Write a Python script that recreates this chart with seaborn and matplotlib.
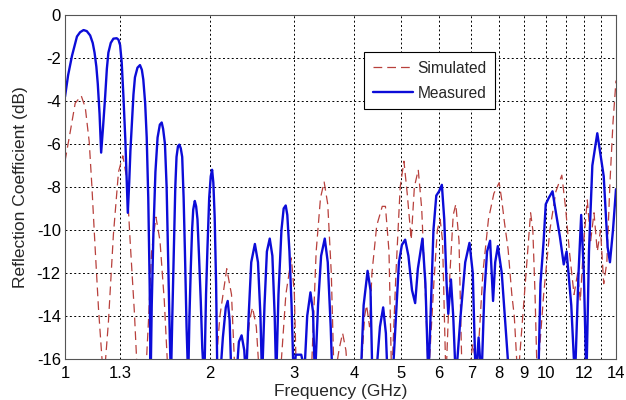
import numpy as np
import pandas as pd
import matplotlib
matplotlib.use("Agg")
import matplotlib.pyplot as plt
from matplotlib.ticker import FixedLocator, FixedFormatter, NullLocator
from matplotlib.lines import Line2D
import seaborn as sns

# Measured (blue) — frequency in GHz, reflection coefficient in dB
meas_f = [1.000, 1.015, 1.034, 1.059, 1.075, 1.093, 1.110, 1.128, 1.142, 1.152, 1.162, 1.170, 1.180, 1.189,
          1.200, 1.212, 1.222, 1.231, 1.245, 1.261, 1.281, 1.292, 1.302, 1.312, 1.323, 1.335, 1.344, 1.351,
          1.360, 1.368, 1.377, 1.388, 1.398, 1.415, 1.432, 1.445, 1.455, 1.468, 1.479, 1.490, 1.500, 1.507,
          1.515, 1.527, 1.542, 1.558, 1.575, 1.589, 1.600, 1.614, 1.627, 1.640, 1.652, 1.661,
          1.672, 1.687, 1.696, 1.706, 1.718, 1.729, 1.741, 1.753, 1.765, 1.776, 1.790, 1.804,
          1.815, 1.827, 1.838, 1.848, 1.862, 1.874, 1.886, 1.900, 1.916, 1.930, 1.947,
          1.953, 1.965, 1.978, 1.995, 2.010, 2.023, 2.035, 2.048, 2.062, 2.075,
          2.10, 2.13, 2.16, 2.18, 2.20, 2.22, 2.27, 2.30, 2.33, 2.36, 2.38, 2.41, 2.44, 2.483, 2.52, 2.55, 2.57,
          2.60, 2.63, 2.666, 2.70, 2.73, 2.75, 2.78, 2.82, 2.85, 2.878, 2.90, 2.93, 2.96, 2.99, 3.02, 3.10, 3.15, 3.19,
          3.24, 3.28, 3.31, 3.36, 3.41, 3.47, 3.52, 3.57, 3.60, 4.12, 4.18, 4.26, 4.32, 4.36, 4.43, 4.52,
          4.59, 4.65, 4.69, 4.80, 4.88, 4.95, 5.02, 5.10, 5.18, 5.27, 5.35, 5.42, 5.54, 5.62, 5.70, 5.78,
          5.84, 5.92, 6.00, 6.08, 6.15, 6.22, 6.27, 6.35, 6.42, 6.50, 6.65, 6.80, 6.94, 7.05, 7.15, 7.25,
          7.35, 7.45, 7.55, 7.66, 7.77, 7.85, 7.95, 8.10, 8.25, 8.40, 9.65, 9.75, 9.90, 10.0, 10.15, 10.33,
          10.5, 10.7, 10.9, 11.05, 11.3, 11.5, 11.7, 11.85, 12.0, 12.15, 12.3, 12.5, 12.8, 13.0, 13.2,
          13.45, 13.6, 13.8, 14.0]
meas_db = [-3.8, -2.8, -1.9, -1.0, -0.8, -0.7, -0.75, -0.95, -1.3, -1.75, -2.4, -3.2, -4.6, -6.4,
           -5.2, -3.8, -2.5, -1.75, -1.3, -1.1, -1.08, -1.15, -1.4, -2.2, -3.8, -5.8, -7.8, -9.2,
           -7.8, -6.3, -5.1, -3.7, -2.9, -2.45, -2.33, -2.55, -3.0, -4.1, -5.7, -8.5, -12.5, -17.0,
           -13.5, -10.2, -7.3, -5.7, -5.1, -5.0, -5.3, -6.0, -8.0, -11.7, -15.0, -17.0,
           -14.0, -10.2, -8.0, -6.6, -6.1, -6.03, -6.2, -6.6, -8.5, -11.0, -14.5, -17.0,
           -14.0, -11.7, -10.0, -9.05, -8.65, -8.9, -9.5, -11.2, -13.3, -15.5, -17.0,
           -16.0, -13.0, -10.9, -8.5, -7.5, -7.2, -7.8, -9.4, -12.5, -17.0,
           -17.0, -15.0, -13.6, -13.3, -14.2, -17.0, -17.0, -15.2, -14.9, -15.6, -17.0, -14.0, -11.5, -10.65, -11.5, -14.0, -17.0,
           -13.5, -11.0, -10.4, -11.2, -14.0, -17.0, -13.0, -10.0, -9.0, -8.86, -9.3, -11.0, -13.5, -17.0, -15.8, -15.8, -16.5, -14.0,
           -12.9, -13.8, -17.0, -13.5, -11.2, -10.4, -11.5, -14.5, -17.0, -17.0, -13.5, -11.9, -12.8, -17.0, -17.0, -14.5,
           -13.6, -14.8, -17.0, -17.0, -14.0, -11.5, -10.7, -10.45, -11.2, -12.8, -13.4, -11.8, -10.4, -12.5, -17.0, -13.0,
           -10.0, -8.4, -8.2, -7.9, -9.5, -12.5, -13.9, -12.3, -14.0, -17.0, -14.0, -11.5, -10.6, -12.0, -17.0, -15.0,
           -17.0, -13.0, -11.0, -10.5, -13.3, -11.5, -10.75, -12.0, -14.5, -17.0, -17.0, -12.5, -10.5, -8.8, -8.5, -8.2,
           -9.2, -10.3, -11.6, -11.0, -13.5, -17.0, -12.0, -9.3, -12.0, -17.0, -11.0, -7.0, -5.5, -6.5, -7.5,
           -10.8, -11.5, -10.0, -8.1]

# Simulated (red dashed)
sim_f = [1.000, 1.026, 1.050, 1.081, 1.102, 1.123, 1.137, 1.156, 1.174, 1.193, 1.205,
         1.231, 1.261, 1.292, 1.319, 1.344, 1.366, 1.394, 1.416, 1.470,
         1.491, 1.514, 1.546, 1.576, 1.609, 1.640, 2.05, 2.10, 2.17, 2.22, 2.26, 2.36, 2.42, 2.455, 2.50,
         2.54, 2.80, 2.88, 2.957, 3.0, 3.03, 3.25, 3.33, 3.40, 3.46, 3.52, 3.58, 3.63, 3.72, 3.78, 3.84,
         3.88, 4.12, 4.20, 4.24, 4.30, 4.35, 4.45, 4.57, 4.64, 4.72, 4.78, 4.88, 4.98, 5.07, 5.15, 5.25,
         5.33, 5.43, 5.52, 5.62, 5.70, 5.85, 5.95, 6.03, 6.10, 6.20, 6.32, 6.42, 6.50, 6.60, 6.70, 6.90,
         7.05, 7.20, 7.40, 7.60, 7.80, 8.00, 8.10, 8.20, 8.35, 8.50, 8.60, 8.75, 9.10, 9.30, 9.40, 9.50,
         9.60, 9.90, 10.2, 10.5, 10.8, 11.0, 11.2, 11.45, 11.65, 11.8, 12.0, 12.2, 12.4, 12.6, 12.8, 13.0,
         13.2, 13.4, 13.6, 13.8, 14.0]
sim_db = [-6.8, -5.4, -4.1, -3.76, -4.3, -5.9, -7.9, -10.95, -13.65, -15.9, -17.0,
          -14.3, -10.2, -7.3, -6.55, -7.6, -10.5, -13.8, -17.0, -17.0,
          -14.3, -11.0, -9.4, -10.5, -13.3, -17.0, -17.0, -14.0, -11.8, -13.0, -17.0, -17.0, -14.2, -13.6, -14.5,
          -17.0, -17.0, -13.0, -11.3, -13.0, -17.0, -17.0, -11.0, -8.5, -7.77, -8.8, -12.0, -17.0, -15.5, -14.8, -15.6,
          -17.0, -17.0, -14.0, -13.5, -14.5, -12.0, -9.8, -8.9, -8.9, -11.0, -17.0, -12.0, -8.0, -6.8, -8.3, -10.45,
          -8.0, -7.2, -9.0, -13.0, -17.0, -12.5, -10.0, -9.5, -10.5, -17.0, -12.0, -9.3, -8.8, -10.5, -17.0, -17.0,
          -15.3, -16.5, -12.0, -9.5, -8.3, -7.8, -8.6, -9.6, -10.9, -13.0, -14.0, -17.0, -12.0, -9.2, -10.0, -13.0,
          -17.0, -13.0, -10.0, -8.2, -7.45, -9.0, -11.0, -13.0, -12.0, -13.3, -10.5, -8.6, -10.5, -9.2, -11.0, -10.0,
          -12.5, -11.5, -7.8, -5.0, -3.05]

x_ticks = [1, 1.3, 2, 3, 4, 5, 6, 7, 8, 9, 10, 11, 12, 13, 14]
x_tick_labels = ["1", "1.3", "2", "3", "4", "5", "6", "7", "8", "9", "10", "", "12", "", "14"]
y_ticks = [0, -2, -4, -6, -8, -10, -12, -14, -16]

sns.set_theme(style="white")
plt.rcParams["font.family"] = ["Liberation Sans", "DejaVu Sans"]

df = pd.concat([
    pd.DataFrame({"Frequency": sim_f, "dB": sim_db, "Series": "Simulated"}),
    pd.DataFrame({"Frequency": meas_f, "dB": meas_db, "Series": "Measured"}),
], ignore_index=True)

RED = "#b8403c"
BLUE = "#0c0cd8"

fig = plt.figure(figsize=(6.26, 4.0), dpi=100)
ax = fig.add_axes([65 / 626, 1 - 359 / 400, 551 / 626, 344 / 400])

sns.lineplot(data=df, x="Frequency", y="dB", hue="Series", style="Series",
             palette={"Simulated": RED, "Measured": BLUE},
             dashes={"Simulated": (7, 4), "Measured": ""},
             size="Series", sizes={"Simulated": 0.9, "Measured": 1.7},
             sort=False, estimator=None, ax=ax, legend=False)

ax.set_xscale("log")
ax.set_xlim(1, 14)
ax.set_ylim(-16, 0)
ax.xaxis.set_major_locator(FixedLocator(x_ticks))
ax.xaxis.set_major_formatter(FixedFormatter(x_tick_labels))
ax.xaxis.set_minor_locator(NullLocator())
ax.set_yticks(y_ticks)
ax.set_yticklabels([str(v) for v in y_ticks])

ax.grid(True, color="black", linestyle=(0, (2, 2.5)), linewidth=0.7)
for s in ax.spines.values():
    s.set_color("#555555")
    s.set_linewidth(0.8)
ax.tick_params(axis="both", labelsize=12, colors="black", length=3, direction="in")
ax.tick_params(axis="x", pad=5)
ax.tick_params(axis="y", pad=3)
ax.set_xlabel("Frequency (GHz)", fontsize=12.5, labelpad=2)
ax.set_ylabel("Reflection Coefficient (dB)", fontsize=12.5, labelpad=6)

handles = [Line2D([], [], color=RED, lw=0.9, dashes=(7, 4)),
           Line2D([], [], color=BLUE, lw=1.7)]
leg = ax.legend(handles, ["Simulated", "Measured"], loc="upper left",
                bbox_to_anchor=((364 - 65) / 551, (359 - 52) / 344), borderaxespad=0,
                fontsize=11.2, frameon=True,
                fancybox=False, edgecolor="black", framealpha=1,
                handlelength=2.6, borderpad=0.55, labelspacing=0.65, handletextpad=0.3)
leg.get_frame().set_linewidth(0.8)

fig.savefig("out.png", dpi=100)
